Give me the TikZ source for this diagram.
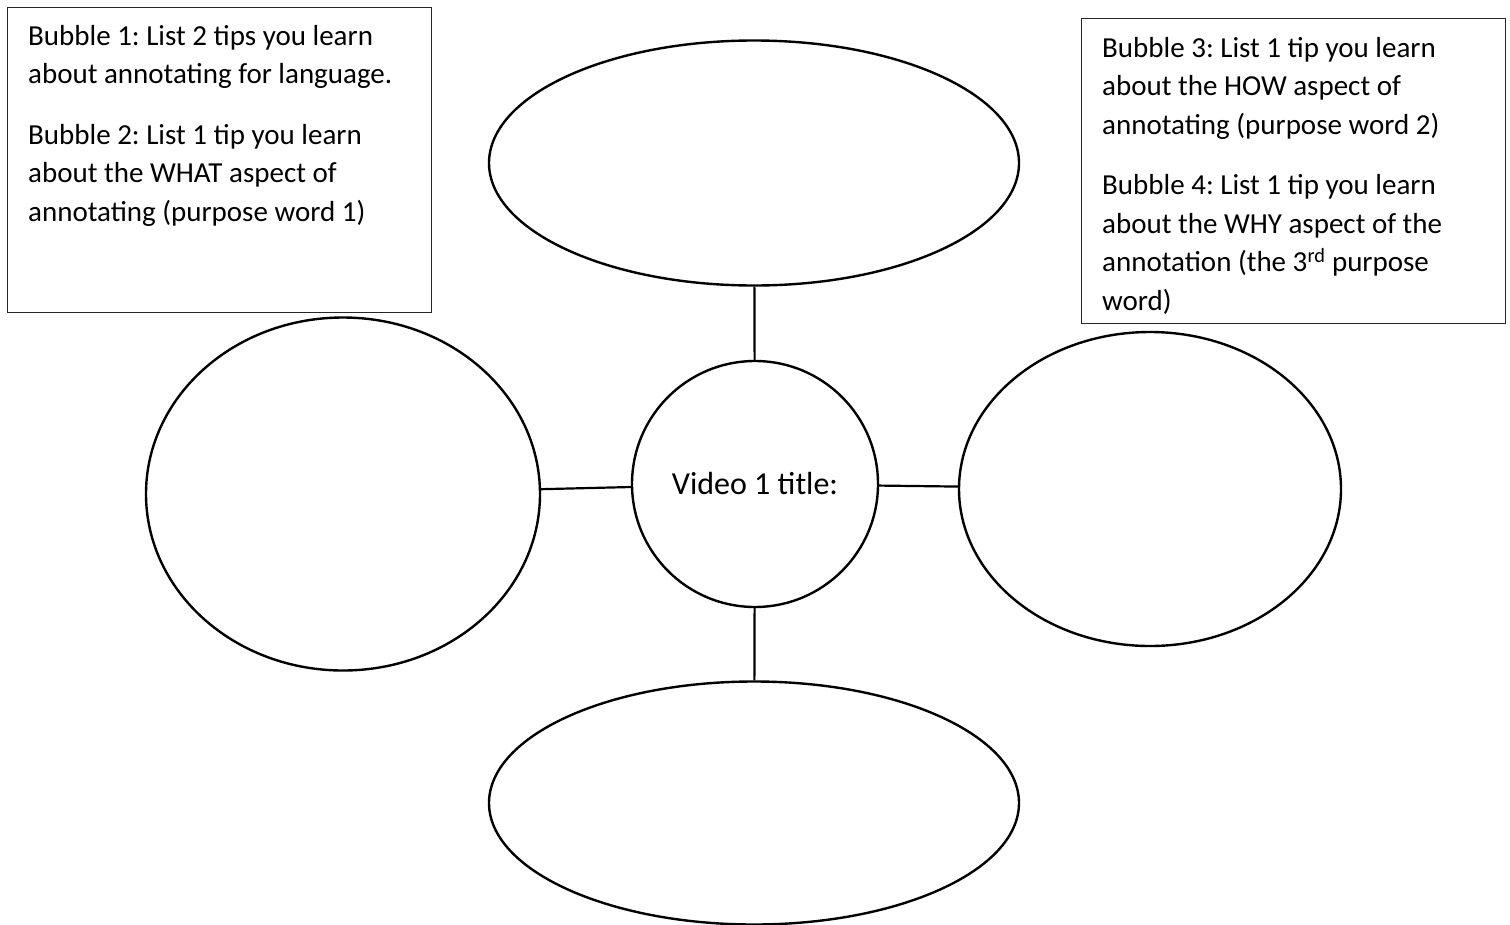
\documentclass[tikz,border=0pt]{standalone}
\usepackage{fontspec}
\setmainfont{Carlito}
\frenchspacing
\usetikzlibrary{shapes.geometric}

\begin{document}
\begin{tikzpicture}[x=1pt, y=-1pt,
    bubblenode/.style={draw=black, ellipse, line width=2.4pt, inner sep=0pt},
    hubnode/.style={draw=black, circle, line width=2.4pt, inner sep=0pt,
                    minimum size=246pt, font=\fontsize{32}{38}\selectfont},
    notebox/.style={draw=black!85, line width=1.3pt, rectangle,
                    inner sep=0pt, anchor=north west},
    notetext/.style={anchor=north west, inner sep=0pt, align=left,
                     font=\fontsize{29}{38.5}\selectfont},
    linkline/.style={line width=2.2pt}
]
\useasboundingbox (0,0) rectangle (1510,924);

% instruction boxes
\node[notebox, minimum width=424pt, minimum height=305pt] (boxL) at (7,7) {};
\node[notebox, minimum width=424pt, minimum height=305pt] (boxR) at (1081,18) {};
\node[notetext] (txtL) at (28,18)
  {\strut Bubble 1: List 2 tips you learn\\
   about annotating for language.\\[22pt]
   Bubble 2: List 1 tip you learn\\
   about the WHAT aspect of\\
   annotating (purpose word 1)};
\node[notetext] (txtR) at (1102,30)
  {\strut Bubble 3: List 1 tip you learn\\
   about the HOW aspect of\\
   annotating (purpose word 2)\\[22pt]
   Bubble 4: List 1 tip you learn\\
   about the WHY aspect of the\\
   annotation (the 3\textsuperscript{rd} purpose\\
   word)};

% bubbles
\node[hubnode] (hub) at (755,484) {Video 1 title:};
\node[bubblenode, minimum width=530pt, minimum height=245pt] (topB) at (754,163) {};
\node[bubblenode, minimum width=394pt, minimum height=353pt] (leftB) at (343,494) {};
\node[bubblenode, minimum width=382pt, minimum height=314pt] (rightB) at (1150,489) {};
\node[bubblenode, minimum width=530pt, minimum height=243pt] (botB) at (754,803) {};

\draw[linkline] (topB) -- (hub);
\draw[linkline] (leftB) -- (hub);
\draw[linkline] (hub) -- (rightB);
\draw[linkline] (hub) -- (botB);

\end{tikzpicture}
\end{document}
